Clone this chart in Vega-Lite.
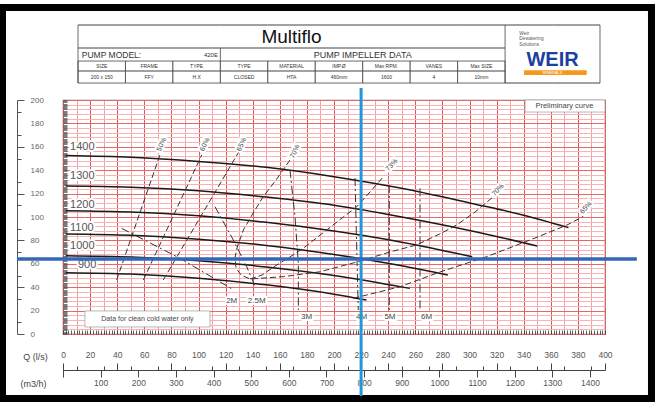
{
  "$schema": "https://vega.github.io/schema/vega-lite/v6.json",
  "width": 542,
  "height": 234,
  "autosize": {"type": "none"},
  "padding": {"left": 63, "top": 100, "right": 50, "bottom": 68},
  "background": "white",
  "config": {
    "view": {"stroke": "#777", "strokeWidth": 1.2},
    "font": "Liberation Sans",
    "axis": {"labelFont": "Liberation Sans", "titleFont": "Liberation Sans", "labelOverlap": false, "labelSeparation": 0}
  },
  "datasets": {
    "rpm": [
      {"s": "1400", "q": 2, "h": 152.5}, {"s": "1400", "q": 50, "h": 151}, {"s": "1400", "q": 100, "h": 147.5}, {"s": "1400", "q": 150, "h": 142.5}, {"s": "1400", "q": 200, "h": 134.5}, {"s": "1400", "q": 250, "h": 124.5}, {"s": "1400", "q": 300, "h": 112}, {"s": "1400", "q": 340, "h": 101.5}, {"s": "1400", "q": 373, "h": 90.9},
      {"s": "1300", "q": 2, "h": 126.5}, {"s": "1300", "q": 50, "h": 125.5}, {"s": "1300", "q": 100, "h": 122.5}, {"s": "1300", "q": 150, "h": 117}, {"s": "1300", "q": 200, "h": 110}, {"s": "1300", "q": 250, "h": 100}, {"s": "1300", "q": 300, "h": 88.5}, {"s": "1300", "q": 350, "h": 75.2},
      {"s": "1200", "q": 2, "h": 105.4}, {"s": "1200", "q": 50, "h": 104.3}, {"s": "1200", "q": 100, "h": 101}, {"s": "1200", "q": 150, "h": 95.5}, {"s": "1200", "q": 200, "h": 88}, {"s": "1200", "q": 250, "h": 78.5}, {"s": "1200", "q": 302, "h": 66.1},
      {"s": "1100", "q": 2, "h": 85.5}, {"s": "1100", "q": 50, "h": 84.4}, {"s": "1100", "q": 100, "h": 81}, {"s": "1100", "q": 150, "h": 75.7}, {"s": "1100", "q": 200, "h": 68}, {"s": "1100", "q": 250, "h": 58.3}, {"s": "1100", "q": 284, "h": 50.4},
      {"s": "1000", "q": 2, "h": 66.9}, {"s": "1000", "q": 50, "h": 65.8}, {"s": "1000", "q": 100, "h": 62.6}, {"s": "1000", "q": 150, "h": 57.3}, {"s": "1000", "q": 200, "h": 50}, {"s": "1000", "q": 256, "h": 39},
      {"s": "900", "q": 2, "h": 52.4}, {"s": "900", "q": 50, "h": 51.2}, {"s": "900", "q": 100, "h": 47.7}, {"s": "900", "q": 150, "h": 42}, {"s": "900", "q": 200, "h": 34}, {"s": "900", "q": 224, "h": 29}
    ],
    "eff": [
      {"s": "50%", "i": 1, "q": 39.6, "h": 46.2}, {"s": "50%", "i": 2, "q": 72.8, "h": 157.3},
      {"s": "60%", "i": 1, "q": 59.3, "h": 46.2}, {"s": "60%", "i": 2, "q": 102.4, "h": 153},
      {"s": "65%L", "i": 1, "q": 74, "h": 46.2}, {"s": "65%L", "i": 2, "q": 130.6, "h": 157.3},
      {"s": "70%", "i": 1, "q": 167.5, "h": 148.7}, {"s": "70%", "i": 2, "q": 157.2, "h": 131.6}, {"s": "70%", "i": 3, "q": 147.8, "h": 117.4}, {"s": "70%", "i": 4, "q": 139.5, "h": 101.7}, {"s": "70%", "i": 5, "q": 133.1, "h": 88.9}, {"s": "70%", "i": 6, "q": 128.4, "h": 73.5}, {"s": "70%", "i": 7, "q": 126.9, "h": 65}, {"s": "70%", "i": 8, "q": 127.7, "h": 56.4}, {"s": "70%", "i": 9, "q": 131.4, "h": 50.4}, {"s": "70%", "i": 10, "q": 138, "h": 47}, {"s": "70%", "i": 11, "q": 149.1, "h": 47.9}, {"s": "70%", "i": 12, "q": 162.6, "h": 49}, {"s": "70%", "i": 13, "q": 189.7, "h": 53.2}, {"s": "70%", "i": 14, "q": 216.8, "h": 61.5}, {"s": "70%", "i": 15, "q": 241.3, "h": 70.1}, {"s": "70%", "i": 16, "q": 261, "h": 76.1}, {"s": "70%", "i": 17, "q": 278, "h": 85.5}, {"s": "70%", "i": 18, "q": 290.6, "h": 93.2}, {"s": "70%", "i": 19, "q": 304.1, "h": 104.3}, {"s": "70%", "i": 20, "q": 317.6, "h": 117.4},
      {"s": "73%", "i": 1, "q": 138, "h": 47}, {"s": "73%", "i": 2, "q": 146.9, "h": 50.4}, {"s": "73%", "i": 3, "q": 156.5, "h": 58.1}, {"s": "73%", "i": 4, "q": 167.5, "h": 65.8}, {"s": "73%", "i": 5, "q": 178.6, "h": 74.4}, {"s": "73%", "i": 6, "q": 194.6, "h": 88.9}, {"s": "73%", "i": 7, "q": 205.9, "h": 99.1}, {"s": "73%", "i": 8, "q": 216.8, "h": 108.8}, {"s": "73%", "i": 9, "q": 226.6, "h": 121.4}, {"s": "73%", "i": 10, "q": 236.4, "h": 134.4},
      {"s": "65%R", "i": 1, "q": 214.2, "h": 30.5}, {"s": "65%R", "i": 2, "q": 248.7, "h": 40.4}, {"s": "65%R", "i": 3, "q": 278.2, "h": 53}, {"s": "65%R", "i": 4, "q": 312.7, "h": 66.1}, {"s": "65%R", "i": 5, "q": 344.6, "h": 80.3}, {"s": "65%R", "i": 6, "q": 371.7, "h": 93}, {"s": "65%R", "i": 7, "q": 384, "h": 100.5}
    ],
    "npsh": [
      {"s": "2M", "i": 1, "q": 43.3, "h": 90.3}, {"s": "2M", "i": 2, "q": 86.3, "h": 64.7}, {"s": "2M", "i": 3, "q": 124.7, "h": 38.5},
      {"s": "2.5M", "i": 1, "q": 112.2, "h": 108.8}, {"s": "2.5M", "i": 2, "q": 125.7, "h": 80.3}, {"s": "2.5M", "i": 3, "q": 135.6, "h": 57.5}, {"s": "2.5M", "i": 4, "q": 141.7, "h": 41},
      {"s": "3M", "i": 1, "q": 167.5, "h": 140.2}, {"s": "3M", "i": 2, "q": 171.2, "h": 100.3}, {"s": "3M", "i": 3, "q": 173.7, "h": 60.4}, {"s": "3M", "i": 4, "q": 173.7, "h": 20.5},
      {"s": "4M", "i": 1, "q": 215.5, "h": 133.3}, {"s": "4M", "i": 2, "q": 217.9, "h": 20.5},
      {"s": "5M", "i": 1, "q": 240.8, "h": 127.4}, {"s": "5M", "i": 2, "q": 240.8, "h": 20.5},
      {"s": "6M", "i": 1, "q": 263.5, "h": 124.5}, {"s": "6M", "i": 2, "q": 263.5, "h": 20.5}
    ],
    "rpmlab": [
      {"t": "1400", "q": 5.2, "h": 159.6}, {"t": "1300", "q": 5.2, "h": 135}, {"t": "1200", "q": 5.2, "h": 110.3},
      {"t": "1100", "q": 5.2, "h": 90.3}, {"t": "1000", "q": 5.2, "h": 75.2}, {"t": "900", "q": 11, "h": 59}
    ],
    "efflab": [
      {"t": "50%", "g": "L", "q": 72.8, "h": 162}, {"t": "60%", "g": "L", "q": 104.8, "h": 162}, {"t": "65%", "g": "L", "q": 131.9, "h": 162},
      {"t": "70%", "g": "L", "q": 171.2, "h": 156}, {"t": "73%", "g": "R", "q": 242.6, "h": 144.4}, {"t": "70%", "g": "R", "q": 321, "h": 123.1}, {"t": "65%", "g": "R", "q": 386, "h": 108}
    ],
    "npshlab": [
      {"t": "2M", "q": 124.5, "h": 28.5}, {"t": "2.5M", "q": 143, "h": 28.5}, {"t": "3M", "q": 179.8, "h": 14.8},
      {"t": "4M", "q": 220.4, "h": 14.8}, {"t": "5M", "q": 241.3, "h": 14.8}, {"t": "6M", "q": 268.4, "h": 14.8}
    ],
    "header": [
      {"k": "c1", "part": "t", "head": "SIZE", "val": "200 x 150"},
      {"k": "c2", "part": "t", "head": "FRAME", "val": "FFY"},
      {"k": "c3", "part": "t", "head": "TYPE", "val": "H.X"},
      {"k": "c4", "part": "t", "head": "TYPE", "val": "CLOSED"},
      {"k": "c5", "part": "t", "head": "MATERIAL", "val": "HTA"},
      {"k": "c6", "part": "t", "head": "IMP.Ø", "val": "460mm"},
      {"k": "c7", "part": "t", "head": "Max RPM.", "val": "1600"},
      {"k": "c8", "part": "t", "head": "VANES", "val": "4"},
      {"k": "c9", "part": "t", "head": "Max SIZE", "val": "10mm"},
      {"k": "L1", "part": "L", "head": "", "val": ""},
      {"k": "L2", "part": "L", "head": "", "val": ""}
    ]
  },
  "resolve": {"scale": {"x": "independent", "y": "independent"}},
  "layer": [
    {
      "data": {"values": [{"z": 0}]},
      "mark": {"type": "point", "opacity": 0},
      "encoding": {
        "x": {"datum": 0, "type": "quantitative", "scale": {"domain": [0, 400], "nice": false},
          "axis": {"orient": "bottom", "grid": true, "values": [0,10,20,30,40,50,60,70,80,90,100,110,120,130,140,150,160,170,180,190,200,210,220,230,240,250,260,270,280,290,300,310,320,330,340,350,360,370,380,390,400],
            "gridColor": {"condition": {"test": "datum.value % 20 === 0", "value": "#e05858"}, "value": "#f2a0a0"}, "gridWidth": 1, "gridOpacity": 1,
            "ticks": false, "labels": false, "domain": false, "title": null}},
        "y": {"datum": 0, "type": "quantitative", "scale": {"domain": [0, 200], "nice": false},
          "axis": {"orient": "left", "grid": true, "values": [0,4,8,12,16,20,24,28,32,36,40,44,48,52,56,60,64,68,72,76,80,84,88,92,96,100,104,108,112,116,120,124,128,132,136,140,144,148,152,156,160,164,168,172,176,180,184,188,192,196,200],
            "gridColor": {"condition": {"test": "datum.value % 20 === 0", "value": "#e46a6a"}, "value": "#f6b4b4"}, "gridWidth": 1, "gridOpacity": 1,
            "ticks": false, "labels": false, "domain": false, "title": null}}
      }
    },
    {
      "data": {"values": [{"z": 0}]},
      "mark": {"type": "point", "opacity": 0},
      "encoding": {
        "x": {"datum": 0, "type": "quantitative", "scale": {"domain": [0, 400], "nice": false},
          "axis": {"orient": "bottom", "offset": 0, "tickCount": 200, "tickSize": -4, "tickColor": "#333", "tickWidth": 0.8, "labels": false, "domain": false, "grid": false, "title": null}},
        "y": {"datum": 0, "type": "quantitative", "scale": {"domain": [0, 200], "nice": false},
          "axis": {"orient": "left", "offset": 0, "tickCount": 200, "tickSize": -4, "tickColor": "#444", "tickWidth": 0.7, "labels": false, "domain": false, "grid": false, "title": null}}
      }
    },
    {
      "data": {"values": [{"z": 0}]},
      "mark": {"type": "point", "opacity": 0},
      "encoding": {
        "x": {"datum": 0, "type": "quantitative", "scale": {"domain": [0, 400], "nice": false},
          "axis": {"orient": "bottom", "offset": 36, "values": [10,30,50,70,90,110,130,150,170,190,210,230,250,270,290,310,330,350,370,390], "tickSize": -4, "tickColor": "#444", "labels": false, "domain": false, "grid": false, "title": null}},
        "y": {"datum": 0, "type": "quantitative", "scale": {"domain": [0, 200], "nice": false},
          "axis": {"orient": "left", "offset": 46, "values": [10,30,50,70,90,110,130,150,170,190], "tickSize": -4, "tickColor": "#555", "labels": false, "domain": false, "grid": false, "title": null}}
      }
    },
    {
      "data": {"values": [{"z": 0}]},
      "mark": {"type": "point", "opacity": 0},
      "encoding": {
        "x": {"datum": 0, "type": "quantitative", "scale": {"domain": [0, 400], "nice": false},
          "axis": {"orient": "bottom", "offset": 20, "values": [0,20,40,60,80,100,120,140,160,180,200,220,240,260,280,300,320,340,360,380,400], "format": "d",
            "ticks": false, "domain": false, "grid": false, "labelPadding": 0, "labelBaseline": "middle", "labelFontSize": 8.5, "labelColor": "#555",
            "labelFlush": false, "labelOverlap": false, "labelBound": false, "title": null}},
        "y": {"datum": 0, "type": "quantitative", "scale": {"domain": [0, 200], "nice": false},
          "axis": {"orient": "left", "offset": 33, "values": [0,20,40,60,80,100,120,140,160,180,200], "format": "d",
            "ticks": false, "domain": false, "grid": false, "labelPadding": 0, "labelAlign": "left", "labelBaseline": "middle", "labelFontSize": 8, "labelColor": "#666",
            "labelFlush": false, "labelOverlap": false, "labelBound": false, "title": null}}
      }
    },
    {
      "data": {"values": [{"z": 0}]},
      "mark": {"type": "rule", "opacity": 0},
      "encoding": {
        "x": {"datum": 0, "type": "quantitative", "scale": {"domain": [0, 1440], "nice": false},
          "axis": {"orient": "bottom", "offset": 36, "values": [0,100,200,300,400,500,600,700,800,900,1000,1100,1200,1300,1400], "format": "d",
            "tickSize": 7, "tickColor": "#444", "labelExpr": "datum.value === 0 ? '' : datum.label", "labelPadding": 1, "labelFontSize": 8.5, "labelColor": "#555",
            "labelFlush": false, "labelOverlap": false, "domain": false, "grid": false,
            "title": "(m3/h)", "titleAngle": 0, "titleX": -30, "titleY": 13, "titleAlign": "center", "titleBaseline": "middle", "titleFontSize": 9, "titleFontWeight": "normal", "titleColor": "#444"}}
      }
    },
    {
      "data": {"name": "header"},
      "layer": [
        {
          "transform": [{"filter": "datum.part === 't'"}],
          "mark": {"type": "rect", "fill": "white", "stroke": "#444", "strokeWidth": 0.8},
          "encoding": {
            "x": {"field": "k", "type": "nominal", "scale": {"type": "band", "domain": ["c1","c2","c3","c4","c5","c6","c7","c8","c9","L1","L2"], "paddingInner": 0, "paddingOuter": 0.211, "align": 0.75}, "axis": null},
            "y": {"datum": 233.3, "type": "quantitative", "scale": {"domain": [0, 200], "nice": false}, "axis": null},
            "y2": {"datum": 214.5}
          }
        },
        {
          "transform": [{"filter": "datum.part === 't'"}],
          "mark": {"type": "rect", "fill": "#444"},
          "encoding": {"x": {"field": "k", "type": "nominal"}, "y": {"datum": 225.2, "type": "quantitative"}, "y2": {"datum": 224.4}}
        },
        {
          "mark": {"type": "rect", "fill": "#444"},
          "encoding": {"x": {"field": "k", "type": "nominal"}, "y": {"datum": 264.5, "type": "quantitative"}, "y2": {"datum": 263.7}}
        },
        {
          "transform": [{"filter": "datum.part === 't'"}],
          "mark": {"type": "rect", "fill": "#444"},
          "encoding": {"x": {"field": "k", "type": "nominal"}, "y": {"datum": 244.8, "type": "quantitative"}, "y2": {"datum": 244.0}}
        },
        {
          "transform": [{"filter": "datum.part === 'L'"}],
          "mark": {"type": "rect", "fill": "#444"},
          "encoding": {"x": {"field": "k", "type": "nominal"}, "y": {"datum": 214.9, "type": "quantitative"}, "y2": {"datum": 214.1}}
        },
        {
          "transform": [{"filter": "datum.k === 'c1' || datum.k === 'L1'"}],
          "mark": {"type": "rule", "color": "#444", "strokeWidth": 0.8},
          "encoding": {"x": {"field": "k", "type": "nominal", "bandPosition": 0}, "y": {"datum": 264.1, "type": "quantitative"}, "y2": {"datum": 214.5}}
        },
        {
          "transform": [{"filter": "datum.k === 'L2'"}],
          "mark": {"type": "rule", "color": "#444", "strokeWidth": 0.8},
          "encoding": {"x": {"field": "k", "type": "nominal", "bandPosition": 1}, "y": {"datum": 264.1, "type": "quantitative"}, "y2": {"datum": 214.5}}
        },
        {
          "transform": [{"filter": "datum.k === 'c4'"}],
          "mark": {"type": "rule", "color": "#444", "strokeWidth": 0.8},
          "encoding": {"x": {"field": "k", "type": "nominal", "bandPosition": 0}, "y": {"datum": 244.4, "type": "quantitative"}, "y2": {"datum": 233.3}}
        },
        {
          "transform": [{"filter": "datum.part === 't'"}],
          "mark": {"type": "text", "fontSize": 5, "color": "#333", "baseline": "middle"},
          "encoding": {"x": {"field": "k", "type": "nominal", "bandPosition": 0.5}, "y": {"datum": 228.8, "type": "quantitative"}, "text": {"field": "head"}}
        },
        {
          "transform": [{"filter": "datum.part === 't'"}],
          "mark": {"type": "text", "fontSize": 5, "color": "#333", "baseline": "middle"},
          "encoding": {"x": {"field": "k", "type": "nominal", "bandPosition": 0.5}, "y": {"datum": 219.7, "type": "quantitative"}, "text": {"field": "val"}}
        },
        {
          "transform": [{"filter": "datum.k === 'c5'"}],
          "mark": {"type": "text", "fontSize": 19, "color": "#111", "baseline": "middle", "text": "Multiflo"},
          "encoding": {"x": {"field": "k", "type": "nominal", "bandPosition": 0.5}, "y": {"datum": 253.8, "type": "quantitative"}}
        },
        {
          "transform": [{"filter": "datum.k === 'c1'"}],
          "mark": {"type": "text", "fontSize": 8.5, "color": "#333", "baseline": "middle", "align": "left", "text": "PUMP MODEL:"},
          "encoding": {"x": {"field": "k", "type": "nominal", "bandPosition": 0.08}, "y": {"datum": 238.5, "type": "quantitative"}}
        },
        {
          "transform": [{"filter": "datum.k === 'c3'"}],
          "mark": {"type": "text", "fontSize": 6, "color": "#333", "baseline": "middle", "text": "420E"},
          "encoding": {"x": {"field": "k", "type": "nominal", "bandPosition": 0.8}, "y": {"datum": 238.5, "type": "quantitative"}}
        },
        {
          "transform": [{"filter": "datum.k === 'c7'"}],
          "mark": {"type": "text", "fontSize": 9, "color": "#333", "baseline": "middle", "text": "PUMP IMPELLER DATA"},
          "encoding": {"x": {"field": "k", "type": "nominal", "bandPosition": 0}, "y": {"datum": 238.5, "type": "quantitative"}}
        },
        {
          "transform": [{"filter": "datum.k === 'L1'"}],
          "mark": {"type": "text", "fontSize": 4.8, "lineHeight": 5.5, "color": "#555", "baseline": "top", "align": "left", "text": ["Weir", "Dewatering", "Solutions"]},
          "encoding": {"x": {"field": "k", "type": "nominal", "bandPosition": 0.3}, "y": {"datum": 259, "type": "quantitative"}}
        },
        {
          "transform": [{"filter": "datum.k === 'L1'"}],
          "mark": {"type": "rect", "fill": "#f39a1e"},
          "encoding": {"x": {"datum": "L1", "type": "nominal", "bandPosition": 0.4}, "x2": {"datum": "L2", "bandPosition": 0.72}, "y": {"datum": 225.5, "type": "quantitative"}, "y2": {"datum": 221.3}}
        },
        {
          "transform": [{"filter": "datum.k === 'L2'"}],
          "mark": {"type": "text", "fontSize": 20, "fontWeight": "bold", "color": "#1f3f9f", "baseline": "middle", "text": "WEIR"},
          "encoding": {"x": {"field": "k", "type": "nominal", "bandPosition": 0}, "y": {"datum": 234, "type": "quantitative"}}
        },
        {
          "transform": [{"filter": "datum.k === 'L2'"}],
          "mark": {"type": "text", "fontSize": 3.8, "color": "white", "baseline": "middle", "text": "MINERALS"},
          "encoding": {"x": {"field": "k", "type": "nominal", "bandPosition": 0}, "y": {"datum": 223.4, "type": "quantitative"}}
        }
      ]
    },
    {
      "layer": [
        {
          "data": {"values": [{"z": 0}]},
          "mark": {"type": "rect", "filled": false, "stroke": "black", "strokeWidth": 7},
          "encoding": {
            "x": {"datum": -44.65, "type": "quantitative", "scale": {"domain": [0, 400], "nice": false}},
            "x2": {"datum": 434.3},
            "y": {"datum": 279.1, "type": "quantitative", "scale": {"domain": [0, 200], "nice": false}},
            "y2": {"datum": -55.1}
          }
        },
        {
          "data": {"values": [{"z": 0}]},
          "mark": {"type": "rect", "fill": "white", "stroke": "#999", "strokeWidth": 0.7},
          "encoding": {"x": {"datum": 16.2, "type": "quantitative"}, "x2": {"datum": 108.5}, "y": {"datum": 19.7, "type": "quantitative"}, "y2": {"datum": 6}}
        },
        {
          "data": {"values": [{"z": 0}]},
          "mark": {"type": "rect", "fill": "white", "stroke": "#999", "strokeWidth": 0.7},
          "encoding": {"x": {"datum": 341, "type": "quantitative"}, "x2": {"datum": 400}, "y": {"datum": 200, "type": "quantitative"}, "y2": {"datum": 189.7}}
        },
        {
          "data": {"name": "rpm"},
          "mark": {"type": "line", "interpolate": "monotone", "color": "#1a1a1a", "strokeWidth": 1.5},
          "encoding": {
            "x": {"field": "q", "type": "quantitative", "scale": {"domain": [0, 400], "nice": false},
              "axis": {"orient": "bottom", "offset": 36, "values": [0,20,40,60,80,100,120,140,160,180,200,220,240,260,280,300,320,340,360,380,400],
                "tickSize": -7, "tickColor": "#444", "domainColor": "#444", "labels": false, "grid": false,
                "title": "Q (l/s)", "titleAngle": 0, "titleX": -28, "titleY": -14, "titleAlign": "center", "titleBaseline": "middle", "titleFontSize": 9, "titleFontWeight": "normal", "titleColor": "#444"}},
            "y": {"field": "h", "type": "quantitative", "scale": {"domain": [0, 200], "nice": false},
              "axis": {"orient": "left", "offset": 46, "values": [0,20,40,60,80,100,120,140,160,180,200],
                "tickSize": -7, "tickColor": "#555", "domainColor": "#555", "labels": false, "grid": false, "title": null}},
            "detail": {"field": "s"}
          }
        },
        {
          "data": {"name": "eff"},
          "mark": {"type": "line", "color": "#333", "strokeWidth": 1, "strokeDash": [6, 3]},
          "encoding": {"x": {"field": "q", "type": "quantitative"}, "y": {"field": "h", "type": "quantitative"}, "detail": {"field": "s"}, "order": {"field": "i"}}
        },
        {
          "data": {"name": "npsh"},
          "mark": {"type": "line", "color": "#333", "strokeWidth": 1, "strokeDash": [8, 3, 2, 3]},
          "encoding": {"x": {"field": "q", "type": "quantitative"}, "y": {"field": "h", "type": "quantitative"}, "detail": {"field": "s"}, "order": {"field": "i"}}
        },
        {
          "data": {"name": "rpmlab"},
          "mark": {"type": "text", "align": "left", "baseline": "middle", "fontSize": 11, "fill": "white", "stroke": "white", "strokeWidth": 4},
          "encoding": {"x": {"field": "q", "type": "quantitative"}, "y": {"field": "h", "type": "quantitative"}, "text": {"field": "t"}}
        },
        {
          "data": {"name": "rpmlab"},
          "mark": {"type": "text", "align": "left", "baseline": "middle", "fontSize": 11, "color": "#555"},
          "encoding": {"x": {"field": "q", "type": "quantitative"}, "y": {"field": "h", "type": "quantitative"}, "text": {"field": "t"}}
        },
        {
          "data": {"name": "efflab"},
          "transform": [{"filter": "datum.g === 'L'"}],
          "mark": {"type": "text", "angle": 295, "baseline": "middle", "fontSize": 7, "fill": "white", "stroke": "white", "strokeWidth": 4},
          "encoding": {"x": {"field": "q", "type": "quantitative"}, "y": {"field": "h", "type": "quantitative"}, "text": {"field": "t"}}
        },
        {
          "data": {"name": "efflab"},
          "transform": [{"filter": "datum.g === 'L'"}],
          "mark": {"type": "text", "angle": 295, "baseline": "middle", "fontSize": 7, "color": "#444"},
          "encoding": {"x": {"field": "q", "type": "quantitative"}, "y": {"field": "h", "type": "quantitative"}, "text": {"field": "t"}}
        },
        {
          "data": {"name": "efflab"},
          "transform": [{"filter": "datum.g === 'R'"}],
          "mark": {"type": "text", "angle": 312, "baseline": "middle", "fontSize": 7, "fill": "white", "stroke": "white", "strokeWidth": 4},
          "encoding": {"x": {"field": "q", "type": "quantitative"}, "y": {"field": "h", "type": "quantitative"}, "text": {"field": "t"}}
        },
        {
          "data": {"name": "efflab"},
          "transform": [{"filter": "datum.g === 'R'"}],
          "mark": {"type": "text", "angle": 312, "baseline": "middle", "fontSize": 7, "color": "#444"},
          "encoding": {"x": {"field": "q", "type": "quantitative"}, "y": {"field": "h", "type": "quantitative"}, "text": {"field": "t"}}
        },
        {
          "data": {"name": "npshlab"},
          "mark": {"type": "text", "baseline": "middle", "fontSize": 8, "fill": "white", "stroke": "white", "strokeWidth": 4},
          "encoding": {"x": {"field": "q", "type": "quantitative"}, "y": {"field": "h", "type": "quantitative"}, "text": {"field": "t"}}
        },
        {
          "data": {"name": "npshlab"},
          "mark": {"type": "text", "baseline": "middle", "fontSize": 8, "color": "#444"},
          "encoding": {"x": {"field": "q", "type": "quantitative"}, "y": {"field": "h", "type": "quantitative"}, "text": {"field": "t"}}
        },
        {
          "data": {"values": [{"z": 0}]},
          "mark": {"type": "text", "baseline": "middle", "fontSize": 7, "color": "#444", "text": "Data for clean cold water only"},
          "encoding": {"x": {"datum": 62.3, "type": "quantitative"}, "y": {"datum": 12.8, "type": "quantitative"}}
        },
        {
          "data": {"values": [{"z": 0}]},
          "mark": {"type": "text", "baseline": "middle", "fontSize": 7.5, "color": "#444", "text": "Preliminary curve"},
          "encoding": {"x": {"datum": 370, "type": "quantitative"}, "y": {"datum": 195.2, "type": "quantitative"}}
        },
        {
          "data": {"values": [{"z": 0}]},
          "mark": {"type": "rule", "color": "#2297d6", "strokeWidth": 3},
          "encoding": {"x": {"datum": 220, "type": "quantitative"}, "y": {"datum": 210.3, "type": "quantitative"}, "y2": {"datum": -53}}
        },
        {
          "data": {"values": [{"z": 0}]},
          "mark": {"type": "rule", "color": "#3567b6", "strokeWidth": 3.5},
          "encoding": {"x": {"datum": -34, "type": "quantitative"}, "x2": {"datum": 423.5}, "y": {"datum": 64, "type": "quantitative"}}
        }
      ]
    }
  ]
}
